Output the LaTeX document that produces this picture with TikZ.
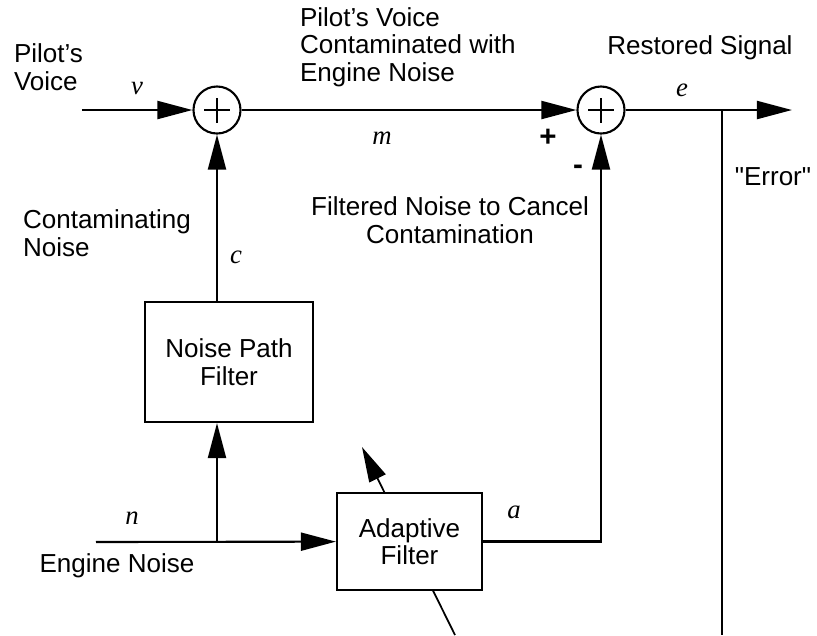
\documentclass[tikz,border=0pt]{standalone}
\usepackage{fontspec}
\setmainfont{Liberation Sans}
\newfontfamily\varfont{Liberation Serif}
\usetikzlibrary{arrows.meta}
\usetikzlibrary{positioning}

\begin{document}
\begin{tikzpicture}[x=0.01cm, y=-0.01cm, line width=0.6pt,
    every node/.style={font=\fontsize{7.4}{7.8}\selectfont, inner sep=0pt},
    blk/.style={draw, fill=white, align=center},
    sumjn/.style={draw, circle, fill=white, minimum size=0.47cm,
      path picture={\draw ([xshift=-0.125cm]path picture bounding box.center) -- ([xshift=0.125cm]path picture bounding box.center)
        ([yshift=-0.125cm]path picture bounding box.center) -- ([yshift=0.125cm]path picture bounding box.center);}},
    sig/.style={font=\fontsize{7.6}{8}\selectfont\varfont\itshape},
    arr/.style={-{Triangle[length=0.35cm, width=0.18cm]}}]
        \useasboundingbox (0,0) rectangle (817,635);

        \coordinate (vin) at (82, 110);
        \coordinate (nin) at (96, 542);
        \coordinate (branch) at (217, 542);
        \coordinate (eout) at (792, 110);
        \coordinate (errtap) at (722, 110);
        \coordinate (errend) at (722, 635);
        \coordinate (adjtail) at (455, 635);
        \coordinate (adjtip) at (362, 447);

        \draw[arr, line width=0.5pt] (adjtail) -- (adjtip);

        \node[sumjn] (sum1) at (217, 110) {};
        \node[sumjn] (sum2) at (601, 110) {};

        \node[blk, minimum width=1.68cm, minimum height=1.2cm] (npf) at (229, 362) {Noise Path\\Filter};
        \node[blk, minimum width=1.45cm, minimum height=0.97cm] (adf) at (409.5, 541.5) {Adaptive\\Filter};

        \node[anchor=west, align=left] (pilot) at (13, 67) {Pilot's\\Voice};
        \node[anchor=west, align=left] (contam) at (299, 47) {Pilot's Voice\\Contaminated with\\Engine Noise};
        \node (restored) at (700, 48) {Restored Signal};
        \node (error) at (773, 177) {\textquotedbl Error\textquotedbl};
        \node[align=center] (cancel) at (450, 220) {Filtered Noise to Cancel\\Contamination};
        \node[anchor=west, align=left] (contnoise) at (22, 233) {Contaminating\\Noise};
        \node (engine) at (117, 566) {Engine Noise};
        \node[font=\fontsize{8.4}{8.8}\selectfont\bfseries] (plus) at (548, 138) {+};
        \node[font=\fontsize{8.4}{8.8}\selectfont\bfseries] (minus) at (578, 170) {-};

        \node[sig] (lv) at (137, 88) {v};
        \node[sig] (lm) at (382, 138) {m};
        \node[sig] (le) at (682, 90) {e};
        \node[sig] (lc) at (236, 257) {c};
        \node[sig] (ln) at (132, 518) {n};
        \node[sig] (la) at (514, 512) {a};

        \draw[arr] (vin) -- (sum1);
        \draw[arr] (sum1) -- (sum2);
        \draw[arr] (sum2) -- (eout);
        \draw (errtap) -- (errend);
        \draw[arr] (npf.north -| sum1) -- (sum1);
        \draw[arr] (nin) -- (adf);
        \draw[arr] (branch) -- (branch |- npf.south);
        \draw[arr] (adf) -- (adf -| sum2) -- (sum2);
      \end{tikzpicture}
\end{document}
